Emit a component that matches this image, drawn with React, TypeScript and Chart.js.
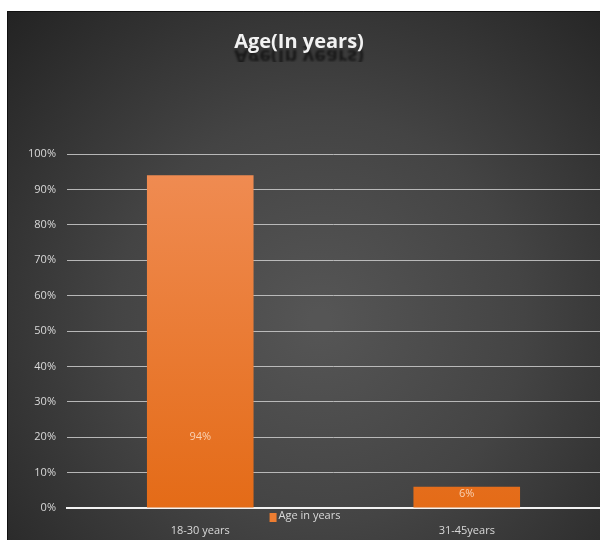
import React, { useEffect, useRef } from "react";
import { Chart, registerables } from "chart.js";

Chart.register(...registerables);

const chartTitle = "Age(In years)";
const seriesName = "Age in years";
const categories = ["18-30 years", "31-45years"];
const values = [94, 6];
const valueLabels = ["94%", "6%"];
const labelAtValue = [20, 4];

const W = 600;
const H = 540;
const FONT = "'Open Sans', sans-serif";

const backgroundPlugin = {
  id: "bgPanel",
  beforeDraw(chart: any) {
    const ctx = chart.ctx;
    ctx.save();
    ctx.fillStyle = "#ffffff";
    ctx.fillRect(0, 0, W, H);
    const g = ctx.createRadialGradient(320, 320, 10, 320, 320, 440);
    g.addColorStop(0, "#555555");
    g.addColorStop(0.45, "#444444");
    g.addColorStop(1, "#232323");
    ctx.fillStyle = g;
    ctx.fillRect(7, 11, W - 7, H - 11);
    ctx.strokeStyle = "#111111";
    ctx.lineWidth = 1;
    ctx.beginPath();
    ctx.moveTo(7.5, H);
    ctx.lineTo(7.5, 11.5);
    ctx.lineTo(W, 11.5);
    ctx.stroke();
    ctx.restore();
  },
};

const titlePlugin = {
  id: "titleReflect",
  afterDraw(chart: any) {
    const ctx = chart.ctx;
    const baseY = 48;
    const cx = 299;
    ctx.save();
    ctx.font = `bold 20px ${FONT}`;
    ctx.textAlign = "center";
    ctx.textBaseline = "alphabetic";
    // reflection
    ctx.save();
    ctx.beginPath();
    ctx.rect(0, baseY - 2, W, 16);
    ctx.clip();
    ctx.translate(0, 2 * baseY + 2);
    ctx.scale(1, -1);
    ctx.filter = "blur(1px)";
    ctx.fillStyle = "rgba(12,12,12,0.75)";
    ctx.fillText(chartTitle, cx, baseY);
    ctx.restore();
    ctx.fillStyle = "#f2f2f2";
    ctx.fillText(chartTitle, cx, baseY);
    ctx.restore();
  },
};

const labelsPlugin = {
  id: "barLabels",
  afterDatasetsDraw(chart: any) {
    const ctx = chart.ctx;
    const meta = chart.getDatasetMeta(0);
    const yScale = chart.scales.y;
    ctx.save();
    ctx.font = `11px ${FONT}`;
    ctx.fillStyle = "#f9d2b4";
    ctx.textAlign = "center";
    ctx.textBaseline = "middle";
    meta.data.forEach((bar: any, i: number) => {
      ctx.fillText(valueLabels[i], bar.x, yScale.getPixelForValue(labelAtValue[i]));
    });
    ctx.restore();
  },
};

const legendPlugin = {
  id: "customLegend",
  afterDraw(chart: any) {
    const ctx = chart.ctx;
    const ds = chart.data.datasets[0];
    ctx.save();
    ctx.font = `11px ${FONT}`;
    const tw = ctx.measureText(ds.label).width;
    const boxW = 7;
    const gap = 2;
    const total = boxW + gap + tw;
    const x0 = 305 - total / 2;
    const yc = 516;
    ctx.fillStyle = "#ed7d31";
    ctx.fillRect(x0, yc - 3, boxW, 9);
    ctx.fillStyle = "#d9d9d9";
    ctx.textBaseline = "middle";
    ctx.textAlign = "left";
    ctx.fillText(ds.label, x0 + boxW + gap, yc);
    ctx.restore();
  },
};

export default function App() {
  const ref = useRef<HTMLCanvasElement | null>(null);

  useEffect(() => {
    if (!ref.current) return;
    const chart = new Chart(ref.current, {
      type: "bar",
      data: {
        labels: categories,
        datasets: [
          {
            label: seriesName,
            data: values,
            backgroundColor: (c: any) => {
              const area = c.chart.chartArea;
              if (!area) return "#ed7d31";
              const g = c.chart.ctx.createLinearGradient(0, area.top, 0, area.bottom);
              g.addColorStop(0, "#f08d55");
              g.addColorStop(1, "#e46b17");
              return g;
            },
            borderWidth: 0,
            barPercentage: 0.4,
            categoryPercentage: 1,
          },
        ],
      },
      options: {
        responsive: false,
        animation: false,
        devicePixelRatio: 1,
        layout: { padding: { top: 154, right: 0, left: 0, bottom: 0 } },
        plugins: {
          legend: { display: false },
          title: { display: false },
          tooltip: { enabled: false },
        },
        scales: {
          x: {
            grid: { display: false },
            border: { display: true, color: "#f2f2f2", width: 2 },
            ticks: { color: "#d9d9d9", font: { family: FONT, size: 11 }, padding: 8 },
            afterFit: (s: any) => {
              s.height = 32;
            },
          },
          y: {
            min: 0,
            max: 100,
            ticks: {
              stepSize: 10,
              color: "#d9d9d9",
              font: { family: FONT, size: 11 },
              padding: 11,
              callback: (v: any) => v + "%",
            },
            grid: { color: "rgba(205,205,205,0.85)", lineWidth: 1, drawTicks: false },
            border: { display: false },
            afterFit: (s: any) => {
              s.width = 67;
            },
          },
        },
      },
      plugins: [backgroundPlugin, titlePlugin, labelsPlugin, legendPlugin],
    });
    return () => chart.destroy();
  }, []);

  return (
    <div style={{ position: "fixed", left: 0, top: 0, width: W, height: H }}>
      <canvas ref={ref} width={W} height={H} style={{ width: W, height: H, display: "block" }} />
    </div>
  );
}
